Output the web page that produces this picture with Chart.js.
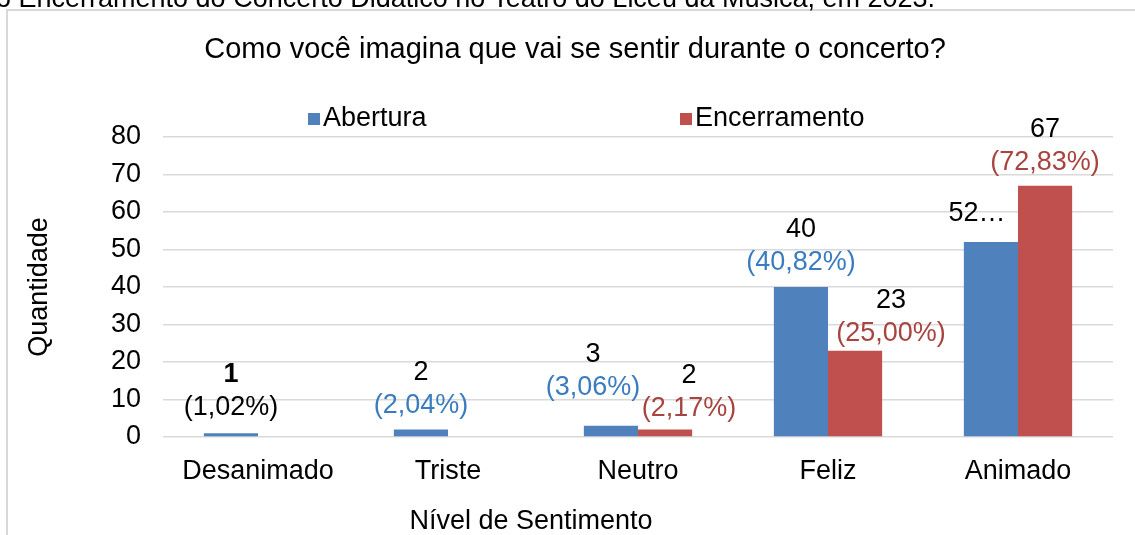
<!DOCTYPE html>
<html>
<head>
<meta charset="utf-8">
<script src="https://cdn.jsdelivr.net/npm/chart.js@4.4.1/dist/chart.umd.min.js"></script>
<style>
  html, body { margin:0; padding:0; background:#fff; overflow:hidden; }
  #wrap { position:relative; width:1135px; height:535px; }
  #caption {
    position:absolute; left:-4px; top:-17px; white-space:nowrap;
    font:27px "Liberation Sans", Arial, sans-serif; line-height:30px; color:#000; z-index:2;
  }
  canvas { position:absolute; left:0; top:0; }
</style>
</head>
<body>
<div id="wrap">
  <div id="caption">o Encerramento do Concerto Didático no Teatro do Liceu da Música, em 2023.</div>
  <canvas id="chart" width="1135" height="535"></canvas>
</div>
<script>
// ---- DADOS ----
const categories = ['Desanimado', 'Triste', 'Neutro', 'Feliz', 'Animado'];
const abertura = [1, 2, 3, 40, 52];
const encerramento = [0, 0, 2, 23, 67];
const aberturaValueText = ['1', '2', '3', '40', '52…'];
const aberturaPctText = ['(1,02%)', '(2,04%)', '(3,06%)', '(40,82%)', ''];
const encerramentoValueText = ['', '', '2', '23', '67'];
const encerramentoPctText = ['', '', '(2,17%)', '(25,00%)', '(72,83%)'];

const chartTitle = 'Como você imagina que vai se sentir durante o concerto?';
const xTitle = 'Nível de Sentimento';
const yTitle = 'Quantidade';

// ---- ESTILO ----
const FONT = '"Liberation Sans", Arial, sans-serif';
const FS = 27;
const BLUE = '#4f81bd';
const RED = '#c0504d';
const BLUE_TXT = '#3a7cc0';
const RED_TXT = '#a8443f';

// deslocamento manual dos rotulos (como no Excel): [dx, dy da linha de %]
const aberturaShift = [[0, -26], [0, -24], [-18, -38], [0, -24], [-14, -28]];
const encerramentoShift = [null, null, [24, -21], [36, -17], [0, -23]];
const aberturaPctColor = ['#000', BLUE_TXT, BLUE_TXT, BLUE_TXT, BLUE_TXT];

function drawLabels(ctx, meta, valueText, pctText, shift, pctColors) {
  meta.data.forEach((el, i) => {
    const s = shift[i];
    if (!s) return;
    const x = el.x + s[0];
    const yPct = el.y + s[1];
    ctx.textAlign = 'center';
    ctx.textBaseline = 'middle';
    if (pctText[i]) {
      ctx.font = FS + 'px ' + FONT;
      ctx.fillStyle = pctColors[i];
      ctx.fillText(pctText[i], x, yPct);
      ctx.font = (valueText[i] === '1' ? 'bold ' : '') + FS + 'px ' + FONT;
      ctx.fillStyle = '#000';
      ctx.fillText(valueText[i], x, yPct - 33);
    } else {
      ctx.font = FS + 'px ' + FONT;
      ctx.fillStyle = '#000';
      ctx.fillText(valueText[i], x, yPct);
    }
  });
}

const extras = {
  id: 'extras',
  beforeDraw(chart) {
    const ctx = chart.ctx;
    ctx.save();
    ctx.strokeStyle = '#d9d9d9';
    ctx.lineWidth = 2;
    ctx.strokeRect(7, 10, 1200, 600);
    ctx.restore();
  },
  afterDraw(chart) {
    const ctx = chart.ctx;
    ctx.save();
    ctx.fillStyle = '#000';
    ctx.textAlign = 'center';
    ctx.textBaseline = 'middle';
    // titulo
    ctx.font = '29px ' + FONT;
    ctx.fillText(chartTitle, 575, 50);
    // titulo eixo x
    ctx.font = FS + 'px ' + FONT;
    ctx.fillText(xTitle, 531, 522);

    // legenda
    ctx.textAlign = 'left';
    const legend = [[chart.data.datasets[0], 308], [chart.data.datasets[1], 680]];
    legend.forEach(([ds, lx]) => {
      ctx.fillStyle = ds.backgroundColor;
      ctx.fillRect(lx, 113, 12, 12);
      ctx.fillStyle = '#000';
      ctx.fillText(ds.label, lx + 15, 119);
    });

    // rotulos de dados
    drawLabels(ctx, chart.getDatasetMeta(0), aberturaValueText, aberturaPctText, aberturaShift, aberturaPctColor);
    drawLabels(ctx, chart.getDatasetMeta(1), encerramentoValueText, encerramentoPctText, encerramentoShift,
      encerramento.map(() => RED_TXT));
    ctx.restore();
  }
};

new Chart(document.getElementById('chart'), {
  type: 'bar',
  data: {
    labels: categories,
    datasets: [
      { label: 'Abertura', data: abertura, backgroundColor: BLUE, borderWidth: 0 },
      { label: 'Encerramento', data: encerramento, backgroundColor: RED, borderWidth: 0 }
    ]
  },
  options: {
    responsive: false,
    animation: false,
    layout: { padding: { top: 137, right: 22, left: 0, bottom: 0 } },
    plugins: { legend: { display: false }, title: { display: false }, tooltip: { enabled: false } },
    datasets: { bar: { categoryPercentage: 0.57, barPercentage: 1 } },
    scales: {
      x: {
        grid: { display: false, drawTicks: false },
        border: { display: false },
        ticks: { color: '#000', font: { family: FONT, size: FS }, padding: 18, maxRotation: 0, autoSkip: false },
        afterFit: s => { s.height = 98; }
      },
      y: {
        min: 0, max: 80,
        grid: { color: '#d9d9d9', lineWidth: 1.5, drawTicks: false },
        border: { display: false },
        ticks: { stepSize: 10, color: '#000', font: { family: FONT, size: FS }, padding: 22 },
        title: { display: true, text: yTitle, color: '#000', font: { family: FONT, size: FS }, padding: { top: 23, bottom: 0 } },
        afterFit: s => { s.width = 163; }
      }
    }
  },
  plugins: [extras]
});
</script>
</body>
</html>
